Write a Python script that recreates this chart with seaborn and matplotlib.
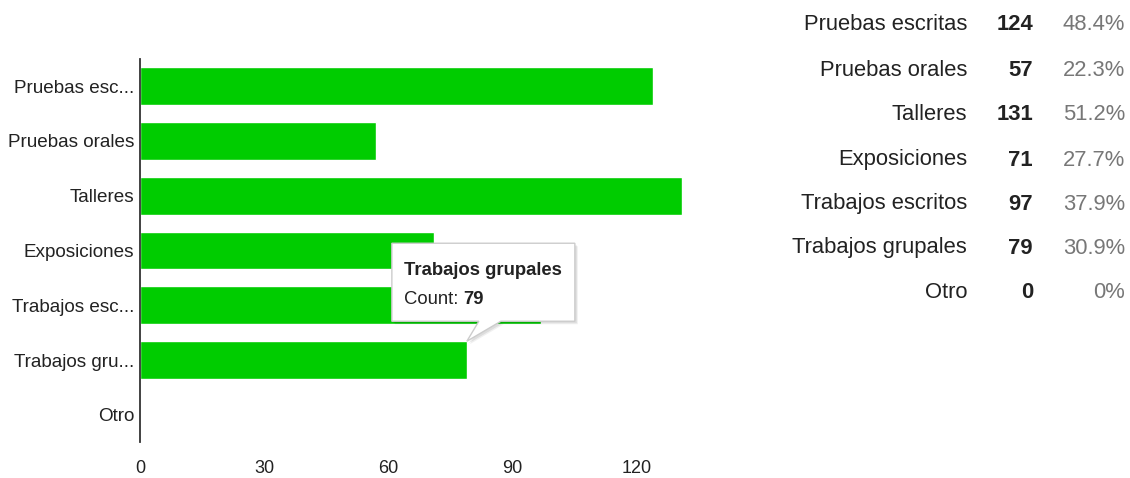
import numpy as np
import pandas as pd
import matplotlib
matplotlib.use("Agg")
import matplotlib.pyplot as plt
import seaborn as sns
from matplotlib import font_manager
from matplotlib.patches import Polygon
from matplotlib.transforms import IdentityTransform

# data
categories = ["Pruebas escritas", "Pruebas orales", "Talleres", "Exposiciones",
              "Trabajos escritos", "Trabajos grupales", "Otro"]
short_labels = ["Pruebas esc...", "Pruebas orales", "Talleres", "Exposiciones",
                "Trabajos esc...", "Trabajos gru...", "Otro"]
counts = [124, 57, 131, 71, 97, 79, 0]
percents = ["48.4%", "22.3%", "51.2%", "27.7%", "37.9%", "30.9%", "0%"]
x_ticks = [0, 30, 60, 90, 120]
hover_index = 5

sns.set_style("white")
names = {f.name for f in font_manager.fontManager.ttflist}
narrow = "Liberation Sans Narrow" in names
font = "Liberation Sans Narrow" if narrow else "Liberation Sans"
plt.rcParams["font.family"] = [font, "DejaVu Sans"]
k = 1.22 if narrow else 1.0  # size factor when the narrow face exists

green = "#00cc00"
txt = "#222222"

fig = plt.figure(figsize=(11.3, 4.78), dpi=100)
W, H = 1130, 478
ax = fig.add_axes([140 / W, 1 - 442.4 / H, 542 / W, 383.8 / H])

df = pd.DataFrame({"label": short_labels, "count": counts})
sns.barplot(data=df, x="count", y="label", orient="h", color=green,
            saturation=1, width=0.69, ax=ax)

ax.set_xlim(0, 131)
ax.set_ylim(6.5, -0.5)
ax.set_xticks(x_ticks)
ax.set_xlabel("")
ax.set_ylabel("")
for s in ["top", "right", "bottom"]:
    ax.spines[s].set_visible(False)
ax.spines["left"].set_color("#333333")
ax.spines["left"].set_linewidth(1.3)
ax.tick_params(axis="y", length=0, pad=4, labelsize=13.6 * k, labelcolor=txt)
ax.tick_params(axis="x", length=0, pad=13, labelsize=13 * k, labelcolor=txt)

# table on the right
row_y = [25, 71, 115, 160, 204, 248, 293]
fs = 15.8 * k
for i, cat in enumerate(categories):
    y = 1 - row_y[i] / H
    fig.text(967 / W, y, cat, ha="right", va="center", fontsize=fs, color=txt)
    fig.text(1033 / W, y, str(counts[i]), ha="right", va="center", fontsize=fs,
             color=txt, fontweight="bold")
    fig.text(1125 / W, y, percents[i], ha="right", va="center", fontsize=fs,
             color="#777777")

# tooltip for the hovered bar
fig.canvas.draw()
tx, ty = ax.transData.transform((counts[hover_index], hover_index - 0.345))
L, R, B, T = tx - 75, tx + 108, ty + 20, ty + 98
verts = [(L, B), (tx + 12, B), (tx, ty), (tx + 34, B), (R, B), (R, T), (L, T)]
for off, a in [(3, 0.06), (2, 0.08)]:
    shadow = Polygon([(x + off, y - off) for x, y in verts], closed=True,
                     transform=IdentityTransform(), facecolor="#000000", alpha=a,
                     edgecolor="none")
    fig.add_artist(shadow)
tip = Polygon(verts, closed=True, transform=IdentityTransform(),
              facecolor="white", edgecolor="#cccccc", linewidth=1)
fig.add_artist(tip)

ts = 13.3 * k
fig.text(L + 12, ty + 71, categories[hover_index], transform=IdentityTransform(),
         ha="left", va="center", fontsize=ts, fontweight="bold", color=txt)
t1 = fig.text(L + 12, ty + 42, "Count: ", transform=IdentityTransform(),
              ha="left", va="center", fontsize=ts, color=txt)
renderer = fig.canvas.get_renderer()
w = t1.get_window_extent(renderer).width
fig.text(L + 12 + w, ty + 42, str(counts[hover_index]), transform=IdentityTransform(),
         ha="left", va="center", fontsize=ts, fontweight="bold", color=txt)

fig.savefig("out.png", dpi=100)
